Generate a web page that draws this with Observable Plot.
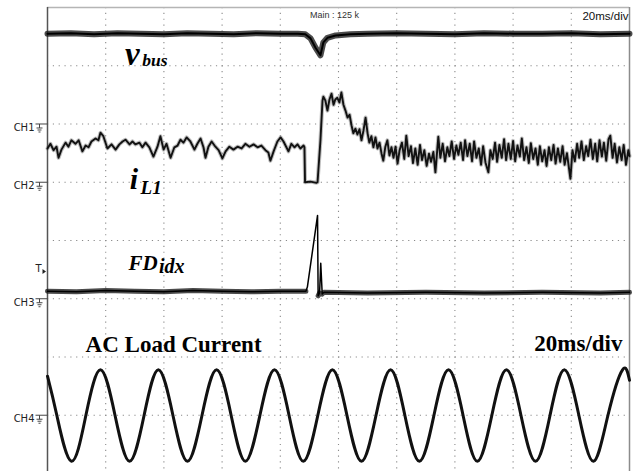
<!DOCTYPE html>
<html>
<head>
<meta charset="utf-8">
<script src="https://cdn.jsdelivr.net/npm/d3@7"></script>
<script src="https://cdn.jsdelivr.net/npm/@observablehq/plot@0.6"></script>
<style>
  html, body { margin: 0; padding: 0; background: #fff; }
  #chart svg { display: block; }
</style>
</head>
<body>
<div id="chart"></div>
<script>
// time in ms (20 ms/div), level in screen divisions (0 = centre line)
const gridTimes = [20, 40, 60, 80, 100, 120, 140, 160, 180];
const gridLevels = [-3, -2, -1, 0, 1, 2, 3];

const channelNames = ["CH1", "CH2", "CH3", "CH4"];
const channelGrounds = [2.0, 1.0, -1.0, -3.0];
const triggerLevel = -0.48;

// DC bus voltage
const vbus = [
  [0, 3.55], [8, 3.56], [16, 3.54], [24, 3.56], [32, 3.55], [40, 3.54], [48, 3.56],
  [56, 3.55], [64, 3.54], [72, 3.56], [80, 3.55], [86, 3.55], [88.6, 3.54],
  [90.4, 3.47], [92.1, 3.31], [93.8, 3.18], [94.8, 3.40], [96.2, 3.48], [99.0, 3.52],
  [104, 3.54], [110, 3.55], [120, 3.56], [130, 3.55], [140, 3.54], [150, 3.56],
  [160, 3.55], [170, 3.55], [180, 3.56], [190, 3.54], [200, 3.55]
];

// inductor current i_L1
const iL1 = [
  [0, 1.58], [1.0, 1.66], [2.1, 1.55], [3.1, 1.61], [3.8, 1.42], [4.8, 1.56], [6.2, 1.68],
  [7.2, 1.61], [8.2, 1.72], [9.6, 1.66], [10.7, 1.72], [12.0, 1.53], [13.1, 1.63],
  [14.1, 1.60], [15.1, 1.70], [16.5, 1.75], [17.5, 1.72], [18.2, 1.85], [19.2, 1.79],
  [20.6, 1.58], [22.0, 1.65], [23.4, 1.56], [24.7, 1.65], [25.8, 1.70], [26.8, 1.73],
  [28.2, 1.65], [29.2, 1.70], [30.2, 1.65], [31.6, 1.68], [32.6, 1.60], [33.7, 1.68],
  [35.0, 1.60], [36.4, 1.44], [37.8, 1.61], [38.8, 1.79], [39.9, 1.56], [40.9, 1.66],
  [42.3, 1.42], [43.6, 1.60], [44.7, 1.63], [45.7, 1.73], [46.7, 1.68], [47.8, 1.77],
  [49.1, 1.70], [50.5, 1.56], [51.5, 1.66], [52.6, 1.75], [53.6, 1.60], [54.3, 1.42],
  [55.3, 1.61], [56.4, 1.70], [57.7, 1.61], [58.8, 1.55], [60.1, 1.41], [61.2, 1.53],
  [62.5, 1.61], [63.9, 1.56], [65.3, 1.61], [66.7, 1.58], [68.0, 1.66], [69.4, 1.61],
  [70.8, 1.65], [72.2, 1.60], [73.5, 1.63], [74.9, 1.55], [75.9, 1.51], [76.6, 1.37],
  [77.7, 1.53], [79.0, 1.70], [80.1, 1.77], [81.1, 1.70], [82.1, 1.60], [82.8, 1.53],
  [83.8, 1.66], [84.9, 1.60], [85.9, 1.65], [86.9, 1.58], [88.0, 1.63], [88.3, 1.60],
  [88.5, 1.00], [90.4, 1.01], [92.4, 0.99], [92.8, 1.00], [93.8, 1.72], [94.5, 2.40],
  [94.8, 2.47], [95.5, 2.40], [96.2, 2.23], [96.9, 2.42], [97.6, 2.52], [98.3, 2.33],
  [98.9, 2.42], [99.6, 2.45], [100.3, 2.37], [101.0, 2.54], [101.7, 2.33], [102.4, 2.23],
  [103.1, 2.11], [103.8, 2.16], [104.5, 1.97], [105.1, 1.84], [105.8, 1.92], [106.5, 1.82],
  [107.2, 1.91], [107.9, 1.72], [108.6, 1.89], [109.3, 2.11], [110.0, 1.84], [110.6, 1.68],
  [111.3, 1.79], [112.0, 1.60], [112.7, 1.77], [113.4, 1.58], [114.1, 1.68], [114.8, 1.49],
  [115.4, 1.37], [116.1, 1.61], [116.8, 1.72], [117.5, 1.46], [118.2, 1.60], [118.9, 1.42],
  [119.6, 1.61], [120.3, 1.32], [121.0, 1.55],
  [121.8, 1.68], [122.6, 1.40], [123.3, 1.80], [124.1, 1.45], [124.9, 1.62], [125.6, 1.33],
  [126.4, 1.58], [127.2, 1.30], [128.0, 1.64], [128.7, 1.38], [129.5, 1.55], [130.3, 1.28],
  [131.1, 1.49], [131.8, 1.35], [132.6, 1.52], [133.3, 1.17], [134.3, 1.78], [135.0, 1.42],
  [135.8, 1.66], [136.6, 1.36], [137.4, 1.60], [138.1, 1.45], [138.9, 1.70], [139.7, 1.40],
  [140.5, 1.63], [141.2, 1.47], [142.0, 1.68], [142.8, 1.38], [143.5, 1.72], [144.3, 1.45],
  [145.1, 1.66], [145.9, 1.36], [146.6, 1.70], [147.4, 1.42], [148.2, 1.58], [149.0, 1.30],
  [149.7, 1.62], [150.5, 1.34], [151.5, 1.17], [152.2, 1.55], [153.0, 1.40], [153.8, 1.68],
  [154.5, 1.35], [155.3, 1.64], [156.1, 1.42], [156.9, 1.74], [157.6, 1.38], [158.4, 1.66],
  [159.2, 1.40], [160.0, 1.71], [160.7, 1.36], [161.5, 1.63], [162.3, 1.44], [163.0, 1.75],
  [163.8, 1.38], [164.6, 1.60], [165.4, 1.33], [166.1, 1.67], [166.9, 1.40], [167.7, 1.58],
  [168.5, 1.30], [169.2, 1.62], [170.0, 1.36], [170.8, 1.55], [171.5, 1.28], [172.3, 1.60],
  [173.1, 1.38], [173.9, 1.64], [174.6, 1.32], [175.4, 1.58], [176.2, 1.35], [177.0, 1.62],
  [177.7, 1.30], [178.5, 1.50], [179.7, 1.06], [180.4, 1.55], [181.2, 1.36], [182.0, 1.66],
  [182.7, 1.42], [183.5, 1.70], [184.3, 1.38], [185.1, 1.62], [185.8, 1.45], [186.6, 1.73],
  [187.4, 1.40], [188.2, 1.66], [188.9, 1.36], [189.7, 1.72], [190.5, 1.44], [191.2, 1.68],
  [192.0, 1.37], [192.8, 1.74], [193.4, 1.80], [194.2, 1.42], [194.9, 1.66], [195.7, 1.34],
  [196.5, 1.60], [197.3, 1.38], [198.0, 1.64], [198.8, 1.30], [199.6, 1.55], [200.0, 1.45]
];

// fault detection index FD_idx
const fdIdx = [
  [0, -0.87], [10, -0.88], [20, -0.86], [30, -0.87], [40, -0.88], [50, -0.86],
  [60, -0.87], [70, -0.88], [80, -0.87], [88.8, -0.87], [89.3, -0.80], [92.8, 0.43],
  [93.0, -0.95], [93.5, -0.90], [93.9, -0.39], [94.4, -0.92], [95, -0.89], [110, -0.90],
  [130, -0.89], [150, -0.90], [170, -0.89], [190, -0.90], [200, -0.89]
];

// AC load current (peaks, zero crossings and troughs)
const acLoad = [
  [0, -2.33], [3.2, -3.00], [8.2, -3.79], [13.2, -3.00], [18.2, -2.22], [23.2, -3.00],
  [28.2, -3.79], [33.2, -3.00], [38.1, -2.22], [43.1, -3.00], [48.1, -3.79], [53.1, -3.00],
  [58.1, -2.22], [63.1, -3.00], [68.0, -3.79], [73.0, -3.00], [78.0, -2.22], [83.0, -3.00],
  [87.9, -3.79], [92.9, -3.00], [97.9, -2.22], [102.9, -3.00], [107.9, -3.79], [112.9, -3.00],
  [117.9, -2.22], [122.8, -3.00], [127.8, -3.79], [132.8, -3.00], [137.8, -2.22], [142.8, -3.00],
  [147.7, -3.79], [152.7, -3.00], [157.7, -2.22], [162.7, -3.00], [167.7, -3.79], [172.7, -3.00],
  [177.6, -2.22], [182.6, -3.00], [187.6, -3.79], [192.6, -3.00], [197.6, -2.22], [200, -2.40]
];

const groundSymbol = {
  draw(ctx) {
    ctx.moveTo(-6, 0); ctx.lineTo(6, 0);
    ctx.moveTo(-2, 0); ctx.lineTo(-2, 4);
    ctx.moveTo(-5, 4); ctx.lineTo(1, 4);
    ctx.moveTo(-4, 6); ctx.lineTo(0, 6);
    ctx.moveTo(-3, 8); ctx.lineTo(-1, 8);
  }
};
const triggerSymbol = {
  draw(ctx) {
    ctx.moveTo(0, -2.5); ctx.lineTo(3.5, 0); ctx.lineTo(0, 2.5); ctx.closePath();
  }
};

const X = d => d[0], Y = d => d[1];
const serif = "Liberation Serif";
const fdBaseline = d => (d[1] < -0.8 ? d[1] : NaN);

const chart = Plot.plot({
  width: 643,
  height: 471,
  marginLeft: 47,
  marginRight: 14,
  marginTop: 7,
  marginBottom: 0,
  x: {domain: [0, 200], axis: null},
  y: {domain: [-3.966, 4], axis: null},
  style: {background: "#fff", overflow: "visible"},
  marks: [
    Plot.ruleX(gridTimes, {stroke: "#8a8a8a", strokeWidth: 1.1, strokeDasharray: "1.2,4.625"}),
    Plot.ruleY(gridLevels, {stroke: "#8a8a8a", strokeWidth: 1.1, strokeDasharray: "1.2,4.625"}),
    Plot.ruleY([4], {stroke: "#b5b5b5", strokeWidth: 1.5}),
    Plot.ruleX([0], {stroke: "#555", strokeWidth: 1.5}),
    Plot.ruleX([200], {stroke: "#8c8c8c", strokeWidth: 1.5}),

    Plot.line(vbus, {x: X, y: Y, stroke: "#1e1e1e", strokeWidth: 6, strokeOpacity: 0.8}),
    Plot.line(vbus, {x: X, y: Y, stroke: "#000", strokeWidth: 2}),
    Plot.line(iL1, {x: X, y: Y, stroke: "#444", strokeWidth: 4, strokeOpacity: 0.35}),
    Plot.line(iL1, {x: X, y: Y, stroke: "#111", strokeWidth: 1.9}),
    Plot.line(fdIdx, {x: X, y: fdBaseline, stroke: "#1e1e1e", strokeWidth: 5, strokeOpacity: 0.8}),
    Plot.line(fdIdx, {x: X, y: Y, stroke: "#000", strokeWidth: 1.5}),
    Plot.line(acLoad, {x: X, y: Y, curve: "natural", stroke: "#111", strokeWidth: 3}),

    Plot.dot(channelGrounds, {y: d => d, frameAnchor: "left", dx: -6, symbol: groundSymbol, r: 5, fill: "none", stroke: "#444", strokeWidth: 1}),
    Plot.text(channelNames, {y: (d, i) => channelGrounds[i], frameAnchor: "left", dx: -13, dy: 4, textAnchor: "end", text: d => d, fontSize: 10, fontFamily: "DejaVu Sans", fill: "#222"}),
    Plot.text(["T"], {y: triggerLevel, frameAnchor: "left", dx: -6, textAnchor: "end", lineAnchor: "middle", text: d => d, fontSize: 10, fontFamily: "DejaVu Sans", fill: "#222"}),
    Plot.dot([triggerLevel], {y: d => d, frameAnchor: "left", dx: -5, dy: 3, symbol: triggerSymbol, r: 3, fill: "#222", stroke: "none"}),

    Plot.text(["Main : 125 k"], {frameAnchor: "top", dx: -4, dy: 8, lineAnchor: "middle", text: d => d, fontSize: 9, fontFamily: "Liberation Sans", fill: "#333"}),
    Plot.text(["20ms/div"], {frameAnchor: "top-right", dx: -1, dy: 9, textAnchor: "end", lineAnchor: "middle", text: d => d, fontSize: 11.5, fontFamily: "Liberation Sans", fill: "#111"}),

    Plot.text(["v"], {x: 26.6, y: 3.02, textAnchor: "start", lineAnchor: "bottom", text: d => d, fontSize: 33, fontFamily: serif, fontWeight: "bold", fontStyle: "italic", fill: "#000"}),
    Plot.text(["bus"], {x: 32.6, y: 3.0, textAnchor: "start", lineAnchor: "bottom", text: d => d, fontSize: 17.5, fontFamily: serif, fontWeight: "bold", fontStyle: "italic", fill: "#000"}),
    Plot.text(["i"], {x: 28.3, y: 0.89, textAnchor: "start", lineAnchor: "bottom", text: d => d, fontSize: 30, fontFamily: serif, fontWeight: "bold", fontStyle: "italic", fill: "#000"}),
    Plot.text(["L1"], {x: 32.0, y: 0.79, textAnchor: "start", lineAnchor: "bottom", text: d => d, fontSize: 19, fontFamily: serif, fontWeight: "bold", fontStyle: "italic", fill: "#000"}),
    Plot.text(["FD"], {x: 27.8, y: -0.515, textAnchor: "start", lineAnchor: "bottom", text: d => d, fontSize: 21, fontFamily: serif, fontWeight: "bold", fontStyle: "italic", fill: "#000"}),
    Plot.text(["idx"], {x: 38.3, y: -0.56, textAnchor: "start", lineAnchor: "bottom", text: d => d, fontSize: 20, fontFamily: serif, fontWeight: "bold", fontStyle: "italic", fill: "#000"}),
    Plot.text(["AC Load Current"], {x: 13.1, y: -1.92, textAnchor: "start", lineAnchor: "bottom", text: d => d, fontSize: 23, fontFamily: serif, fontWeight: "bold", fill: "#000"}),
    Plot.text(["20ms/div"], {x: 197.6, y: -1.905, textAnchor: "end", lineAnchor: "bottom", text: d => d, fontSize: 23, fontFamily: serif, fontWeight: "bold", fill: "#000"})
  ]
});
document.getElementById("chart").appendChild(chart);
</script>
</body>
</html>
